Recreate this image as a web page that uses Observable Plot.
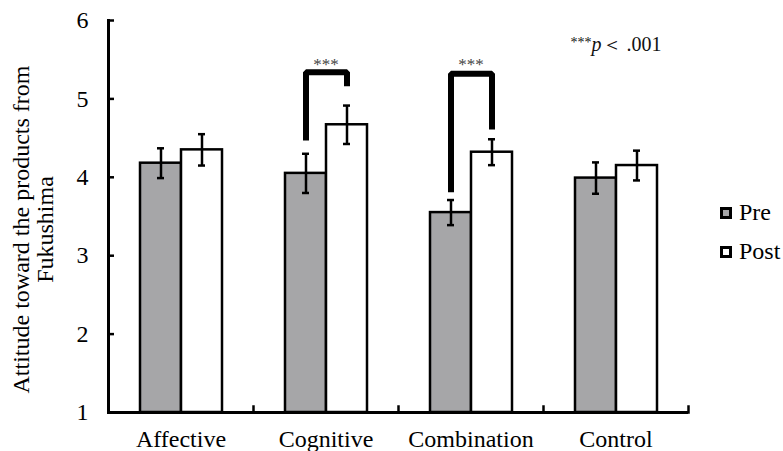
<!DOCTYPE html>
<html><head><meta charset="utf-8">
<script src="https://cdn.jsdelivr.net/npm/d3@7"></script>
<script src="https://cdn.jsdelivr.net/npm/@observablehq/plot@0.6"></script>
<style>
body{margin:0;background:#fff;}
#wrap{position:relative;width:783px;height:451px;font-family:"Liberation Serif","Times New Roman",serif;overflow:hidden;}
.legend{position:absolute;left:720px;top:193px;font-size:24px;color:#000;}
.legend .item{display:flex;align-items:center;height:39px;white-space:nowrap;}
.legend .sw{box-sizing:border-box;width:12px;height:12px;border:3px solid #000;margin-right:7px;}
</style></head><body><div id="wrap"></div>
<script>
const categories = ["Affective", "Cognitive", "Combination", "Control"];
const groups = ["Pre", "Post"];
const preMeans = [4.18, 4.05, 3.55, 3.99];
const postMeans = [4.35, 4.67, 4.32, 4.15];
const preErr = [0.19, 0.25, 0.16, 0.20];
const postErr = [0.20, 0.245, 0.165, 0.19];
const yTicks = [1, 2, 3, 4, 5, 6];
const sigCategories = ["Cognitive", "Combination"];
const sigLeftEnd = [4.47, 3.81];
const sigTop = [5.34, 5.32];
const sigRightEnd = [5.16, 4.61];
const sigLabel = "***";
const sigStarY = 5.44;
const noteText = "***p＜ .001";
const noteY = 5.69;
const yLabel = "Attitude toward the products from\nFukushima";
const groupFills = ["#a6a6a8", "#ffffff"];

const data = categories.flatMap((c, i) => [
  {cat: c, g: groups[0], v: preMeans[i], e: preErr[i]},
  {cat: c, g: groups[1], v: postMeans[i], e: postErr[i]}
]);
const brackets = sigCategories.flatMap((c, i) => [
  {cat: c, g: groups[0], y: sigLeftEnd[i]},
  {cat: c, g: groups[0], y: sigTop[i]},
  {cat: c, g: groups[1], y: sigTop[i]},
  {cat: c, g: groups[1], y: sigRightEnd[i]}
]);

const font = '"Liberation Serif", "Times New Roman", serif';
const chart = Plot.plot({
  width: 783, height: 451,
  marginLeft: 107, marginRight: 94.4, marginTop: 20, marginBottom: 39,
  style: {fontFamily: font, fontSize: "24px", color: "#000", background: "#fff", overflow: "visible"},
  fx: {domain: categories, padding: 0, label: null},
  x: {domain: groups, paddingInner: 0, paddingOuter: 0.74, axis: null},
  y: {domain: [1, 6], label: null},
  color: {domain: groups, range: groupFills},
  marks: [
    Plot.barY(data, {fx: "cat", x: "g", y1: 1, y2: "v", fill: "g", stroke: "#000", strokeWidth: 2.5}),
    Plot.ruleX(data, {fx: "cat", x: "g", y1: d => d.v - d.e, y2: d => d.v + d.e, stroke: "#000", strokeWidth: 2.5}),
    Plot.tickY(data, {fx: "cat", x: "g", y: d => d.v - d.e, insetLeft: 17, insetRight: 17, stroke: "#000", strokeWidth: 2.5}),
    Plot.tickY(data, {fx: "cat", x: "g", y: d => d.v + d.e, insetLeft: 17, insetRight: 17, stroke: "#000", strokeWidth: 2.5}),
    Plot.line(brackets, {fx: "cat", x: "g", y: "y", z: "cat", stroke: "#000", strokeWidth: 6, strokeLinejoin: "miter", strokeLinecap: "butt"}),
    Plot.text(sigCategories, {fx: d => d, y: sigStarY, text: () => sigLabel, fontSize: 17, fill: "#444"}),
    Plot.text([noteText], {fx: () => categories[3], y: noteY, text: d => d, fontSize: 20, fill: "#111"}),
    Plot.ruleY([1], {stroke: "#000", strokeWidth: 3}),
    Plot.frame({anchor: "left", facetAnchor: "left", stroke: "#000", strokeWidth: 3}),
    Plot.frame({anchor: "right", insetTop: 386, stroke: "#000", strokeWidth: 2.5}),
    Plot.axisY({ticks: yTicks, tickFormat: d => String(d), tickSize: 0, tickPadding: 20, fontSize: 24, label: null}),
    Plot.axisY({ticks: yTicks, tickSize: 6, dx: 6, text: null, label: null, stroke: "#000", strokeWidth: 2.5}),
    Plot.text([yLabel], {facetAnchor: "left", frameAnchor: "left", textAnchor: "middle", lineAnchor: "middle", rotate: -90, dx: -75, dy: 13, fontSize: 24, lineHeight: 1, text: d => d, fill: "#000"}),
    Plot.axisFx({anchor: "bottom", tickSize: 0, tickPadding: 17, fontSize: 24, label: null})
  ]
});

d3.select(chart).selectAll("text").filter(function() { return this.textContent === noteText; })
  .each(function() {
    const t = d3.select(this);
    t.text(null);
    t.append("tspan").attr("font-size", 14).attr("dy", -4).text("***");
    t.append("tspan").attr("font-style", "italic").attr("dy", 4).text("p");
    t.append("tspan").text("＜ .001");
  });

const wrap = document.getElementById("wrap");
wrap.appendChild(chart);
const legend = document.createElement("div");
legend.className = "legend";
groups.forEach((g, i) => {
  const item = document.createElement("div");
  item.className = "item";
  const sw = document.createElement("span");
  sw.className = "sw";
  sw.style.background = groupFills[i];
  const lab = document.createElement("span");
  lab.textContent = g;
  item.appendChild(sw); item.appendChild(lab);
  legend.appendChild(item);
});
wrap.appendChild(legend);
</script></body></html>
